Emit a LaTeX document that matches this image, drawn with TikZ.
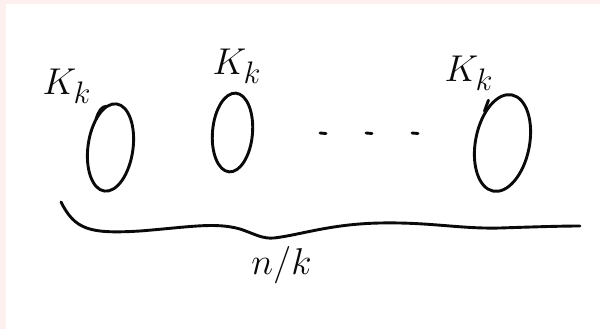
\documentclass[tikz,border=0pt]{standalone}
\usepackage{amsmath,amssymb}
\usepackage{xcolor}
\usepackage{tikz}
\usetikzlibrary{positioning,calc,shapes.geometric}
\definecolor{ink}{RGB}{10,10,10}
\definecolor{blush}{RGB}{255,240,240}
\tikzset{
  pen/.style    = {draw=ink, line width=2.9pt, line cap=round, line join=round},
  blob/.style   = {ellipse, pen, inner sep=0pt, outer sep=0pt},
  tag/.style    = {text=ink, inner sep=0pt, font=\Huge, scale=1.5, transform shape},
  count/.style  = {text=ink, inner sep=0pt, font=\Huge, scale=1.5, transform shape},
}

\begin{document}
\begin{tikzpicture}[x=1pt, y=-1pt]
% page and margin strip
\useasboundingbox (0,0) rectangle (600,329);
\fill[blush] (0,0) rectangle (600,329);
\fill[white] (6,4) rectangle (600,329);

% the cliques
\node[blob, minimum width=45pt, minimum height=88pt, rotate=-8] (c1) at (110.5,147.5) {};
\node[blob, minimum width=40pt, minimum height=79pt, rotate=-5] (c2) at (232.5,132.5) {};
\node[blob, minimum width=54pt, minimum height=98pt, rotate=-11] (c3) at (502.5,143) {};

% pen starts at the top of each loop
\draw[pen] (c1.125) .. controls +(2,-8) and +(-4,0) .. +(10,-13);
\draw[pen, line width=1.4pt] (c2.115) -- +(4,-4);
\draw[pen] ($(c3.125)+(-3,2)$) -- +(4,-11);

% labels
\node[tag] (k1) at (67,86) {$K_k$};
\node[tag] (k2) at (237,66) {$K_k$};
\node[tag] (k3) at (469,73) {$K_k$};

% dots between the cliques
\foreach \x in {323,369,415}{\draw[pen] (\x-3,133) -- (\x+3,133.5);}

% brace under all of them
\coordinate (bl) at (61,202);
\coordinate (dip) at (274,238);
\coordinate (br) at (580,226);
\draw[pen] (bl) .. controls (75,230) and (90,234) .. (140,231)
  .. controls (190,227) and (215,222) .. (240,229)
  .. controls (255,234) and (262,239) .. (dip)
  .. controls (300,235) and (330,224) .. (380,223)
  .. controls (430,222) and (460,229) .. (500,228)
  .. controls (530,227) and (560,226) .. (br);
\node[count, below=8pt of dip, xshift=5pt] (size) {$n/k$};
\end{tikzpicture}
\end{document}
